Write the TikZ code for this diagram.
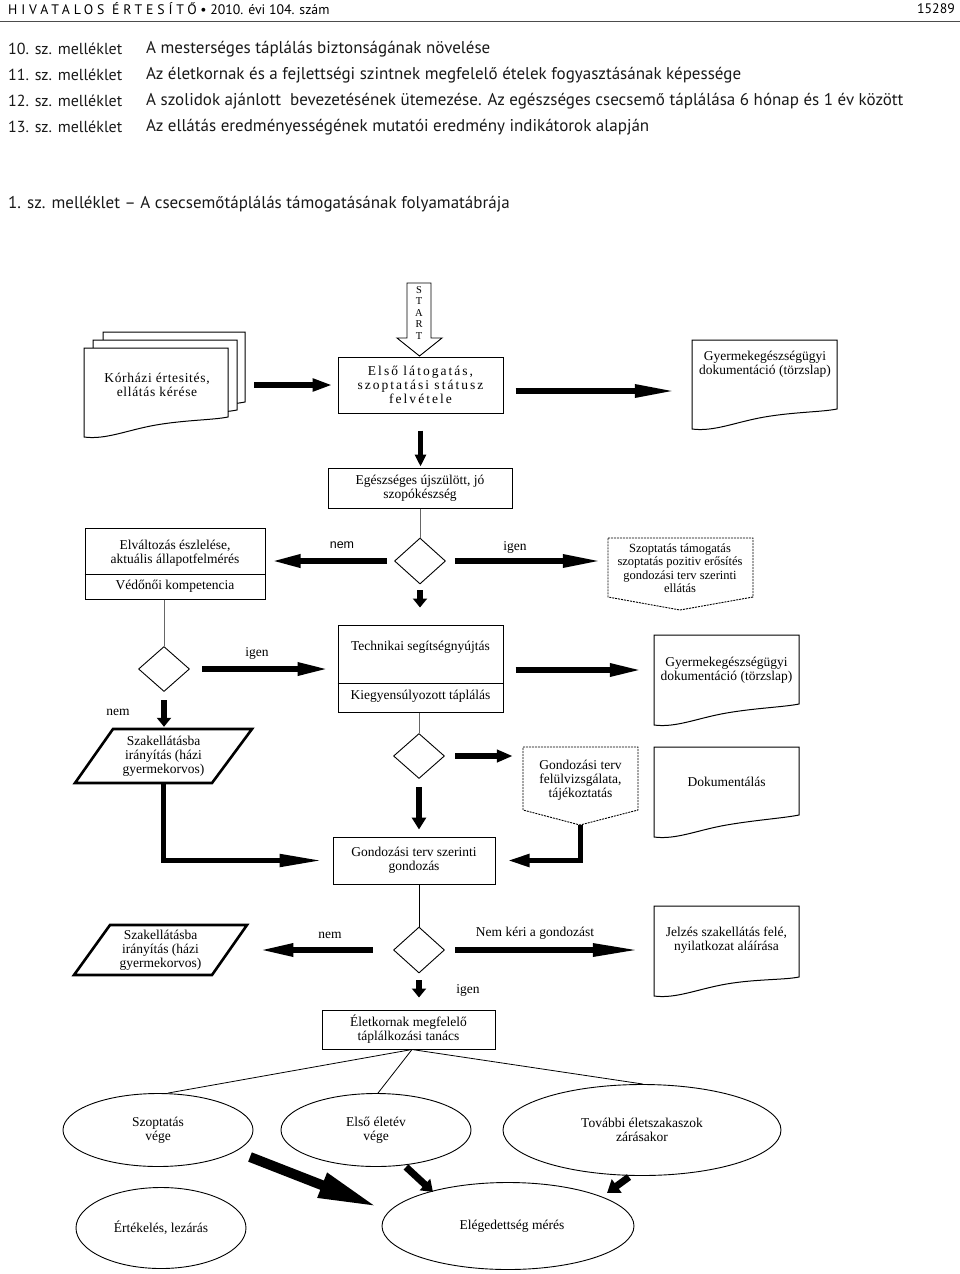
\documentclass[tikz,border=0pt]{standalone}
\usepackage{fontspec}
\setmainfont{Liberation Serif}
\newfontfamily\hsans{PT Sans}
\newfontfamily\hsanssp[LetterSpace=28]{PT Sans}
\newfontfamily\dsp[LetterSpace=15]{Liberation Serif}
\newfontfamily\dspk[LetterSpace=5]{Liberation Serif}
\newfontfamily\lsans{Liberation Sans}
\usetikzlibrary{arrows.meta,shapes.geometric,calc}
\newcommand\dfs{\fontsize{13.5}{14}\selectfont}
\newcommand\hfs{\fontsize{17}{19}\selectfont}
\newcommand\hfl{\fontsize{16}{19}\selectfont}
\newcommand\docshape[5]{%
  \draw[docline] (#1,#2) -- (#3,#2) -- (#3,#4)
    .. controls ({#3-0.1*(#3-#1)},{#4+3}) and ({#1+0.7*(#3-#1)},{#5-17}) .. ({#1+0.5*(#3-#1)},{#5-12})
    .. controls ({#1+0.3*(#3-#1)},{#5-7}) and ({#1+0.15*(#3-#1)},{#5+3}) .. (#1,#5) -- cycle;}
\tikzset{
  docline/.style={draw=black, line width=1pt, fill=white},
  box/.style={draw=black, line width=1pt, fill=white, inner sep=0pt, align=center, font=\dfs},
  frame/.style={inner sep=0pt, draw=none},
  txt/.style={inner sep=0pt, align=center, font=\dfs},
  dia/.style={draw=black, line width=0.9pt, shape=diamond, inner sep=0pt, minimum width=51pt, minimum height=46pt},
  ell/.style={draw=black, line width=0.9pt, shape=ellipse, inner sep=0pt, align=center, font=\dfs},
  thinl/.style={draw=black!60, line width=0.9pt},
  fat/.style={line width=6pt, -{Triangle[length=#1, width=12pt]}},
  fat/.default=30pt,
  fatdown/.style={line width=6pt, -{Triangle[length=9pt, width=14pt]}},
  fatline/.style={line width=5pt, line join=miter},
  dashbox/.style={draw=black, line width=0.9pt, dash pattern=on 2pt off 1pt, fill=white},
  hdr/.style={inner sep=0pt, anchor=west, font=\hsans\hfs, text=black!90},
  hdrl/.style={inner sep=0pt, anchor=west, font=\hsans\hfl, text=black!90},
}
\begin{document}
\begin{tikzpicture}[x=1pt,y=-1pt]
\useasboundingbox[fill=white] (0,0) rectangle (960,1274);
% ---------- header ----------
\node[inner sep=0pt, anchor=west, font=\hsans\fontsize{13.8}{15}\selectfont] (hd) at (8,9) {{\hsanssp HIVATALOS ÉRTESÍTŐ} • 2010. évi 104. szám};
\node[inner sep=0pt, anchor=east, font=\hsans\fontsize{13.8}{15}\selectfont] (pg) at (955,9) {15289};
\draw[black!70, line width=0.8pt] (0,21) -- (960,21);
\node[hdrl] (l10) at (8,49) {10. sz. melléklet};
\node[hdr] (t10) at (146,49) {A mesterséges táplálás biztonságának növelése};
\node[hdrl] (l11) at (8,75) {11. sz. melléklet};
\node[hdr] (t11) at (146,75) {Az életkornak és a fejlettségi szintnek megfelelő ételek fogyasztásának képessége};
\node[hdrl] (l12) at (8,101) {12. sz. melléklet};
\node[hdr] (t12) at (146,101) {A szolidok ajánlott\ \ bevezetésének ütemezése. Az egészséges csecsemő táplálása 6 hónap és 1 év között};
\node[hdrl] (l13) at (8,127) {13. sz. melléklet};
\node[hdr] (t13) at (146,127) {Az ellátás eredményességének mutatói eredmény indikátorok alapján};
\node[hdr] (ttl) at (8,204) {1. sz. melléklet – A csecsemőtáplálás támogatásának folyamatábrája};
% ---------- START ----------
\draw[line width=0.9pt, fill=white] (407,283) -- (431,283) -- (431,338) -- (442,338) -- (419.5,356) -- (397,338) -- (407,338) -- cycle;
\node[txt, font=\fontsize{10.5}{11.5}\selectfont] (start) at (419,313) {S\\T\\A\\R\\T};
% ---------- row 1 ----------
\docshape{103}{332}{245}{402}{422}
\docshape{93}{340}{237}{410}{430}
\docshape{84}{348}{228}{417}{437}
\node[frame, minimum width=144pt, minimum height=89pt] (kor) at (156,392.5) {};
\node[txt, font=\dspk\dfs] (kort) at (157,385) {Kórházi értesités,\\ellátás kérése};
\node[box, minimum width=165pt, minimum height=56pt, font=\dsp\dfs] (elso) at (420.5,385) {Első látogatás,\\szoptatási státusz\\felvétele};
\docshape{692}{340}{837}{409}{429}
\node[frame, minimum width=145pt, minimum height=89pt] (gy1) at (764.5,384.5) {};
\node[txt] (gy1t) at (765,364) {Gyermekegészségügyi\\dokumentáció (törzslap)};
\draw[fat=20pt, shorten <=26pt, shorten >=5pt] (elso.west -| kor.east) -- (elso.west);
\draw[fat=42pt, shorten <=12pt, shorten >=15pt] ([yshift=-6pt]elso.east) -- ([yshift=-6pt]elso.east -| gy1.west);
% ---------- row 2 ----------
\node[box, minimum width=184pt, minimum height=40pt] (egesz) at (420,488) {Egészséges újszülött, jó\\szopókészség};
\draw[line width=5pt, -{Triangle[length=12pt, width=11pt]}, shorten <=17pt, shorten >=1pt] (elso.south) -- (elso.south |- egesz.north);
\node[dia] (dia1) at (420,561) {};
\draw[thinl] (egesz.south) -- (dia1.north);
\node[box, minimum width=180pt, minimum height=71pt] (elv) at (175,563.5) {};
\draw[line width=1pt] ([yshift=-10.5pt]elv.west) -- ([yshift=-10.5pt]elv.east);
\node[txt] (elvt) at (175,553.5) {Elváltozás észlelése,\\aktuális állapotfelmérés};
\node[txt] (vedo) at (175,586.5) {Védőnői kompetencia};
\draw[fat=30pt, shorten <=7pt, shorten >=5pt] (dia1.west) -- (dia1.west -| elv.east);
\node[txt, font=\lsans\fontsize{12.5}{14}\selectfont] (nem1) at (342,545) {nem};
\draw[dashbox] (608,538) -- (753,538) -- (753,597) -- (680,610) -- (608,597) -- cycle;
\node[frame, minimum width=145pt, minimum height=72pt] (szop) at (680.5,574) {};
\node[txt, font=\fontsize{12.5}{13.5}\selectfont] (szopt) at (680,568) {Szoptatás támogatás\\szoptatás pozitiv erősítés\\gondozási terv szerinti\\ellátás};
\draw[fat=40pt, shorten <=9pt, shorten >=5pt] (dia1.east) -- (dia1.east -| szop.west);
\node[txt] (igen1) at (515,547) {igen};
% ---------- row 3 ----------
\node[box, minimum width=165pt, minimum height=87pt] (tech) at (420.5,668.5) {};
\draw[line width=1pt] ([yshift=-14.5pt]tech.west) -- ([yshift=-14.5pt]tech.east);
\node[txt] (techt) at (420.5,647) {Technikai segítségnyújtás};
\node[txt] (kieg) at (420.5,696.5) {Kiegyensúlyozott táplálás};
\draw[fatdown, shorten <=6pt, shorten >=17pt] (dia1.south) -- (dia1.south |- tech.north);
\node[dia, minimum width=51pt, minimum height=45pt] (dia2) at (164,669) {};
\draw[thinl] (dia2.north |- elv.south) -- (dia2.north);
\draw[fat=32pt, shorten <=12.5pt, shorten >=8pt] (dia2.east) -- (dia2.east -| tech.west);
\node[txt] (igen2) at (257,653) {igen};
\draw[line width=2.6pt, line join=miter, fill=white] (113,729) -- (252,729) -- (212,783) -- (75,783) -- cycle;
\node[txt, minimum width=138pt, minimum height=54pt] (par1) at (163.5,756) {Szakellátásba\\irányítás (házi\\gyermekorvos)};
\draw[fatdown, shorten <=8.5pt, shorten >=2pt] (dia2.south) -- (dia2.south |- par1.north);
\node[txt] (nem2) at (118,712) {nem};
\docshape{654}{635}{799}{704}{725}
\node[frame, minimum width=145pt, minimum height=90pt] (gy2) at (726.5,680) {};
\node[txt] (gy2t) at (726.5,670.5) {Gyermekegészségügyi\\dokumentáció (törzslap)};
\draw[fat=33pt, shorten <=12pt, shorten >=11pt] ([yshift=-1.5pt]tech.east) -- ([yshift=-1.5pt]tech.east -| gy2.west);
% ---------- row 4 ----------
\node[dia, minimum width=51pt, minimum height=45pt] (dia3) at (419,756) {};
\draw[thinl] (dia3.north |- tech.south) -- (dia3.north);
\draw[dashbox] (523,747) -- (638,747) -- (638,810) -- (580,825) -- (523,810) -- cycle;
\node[frame, minimum width=115pt, minimum height=78pt] (felulv) at (580.5,786) {};
\node[txt] (felulvt) at (580.5,780.5) {Gondozási terv\\felülvizsgálata,\\tájékoztatás};
\draw[fat=16pt, shorten <=10.5pt, shorten >=10pt] (dia3.east) -- (dia3.east -| felulv.west);
\docshape{654}{747}{799}{815}{837}
\node[frame, minimum width=145pt, minimum height=90pt] (dok) at (726.5,792) {};
\node[txt] (dokt) at (726.5,782) {Dokumentálás};
\node[box, minimum width=162pt, minimum height=47pt] (gond) at (414,860.5) {Gondozási terv szerinti\\gondozás};
\draw[fatdown, -{Triangle[length=12pt, width=14pt]}, shorten <=8.5pt, shorten >=7pt] (dia3.south) -- (dia3.south |- gond.north);
\draw[fatline, -{Triangle[length=43pt, width=12pt]}, shorten >=10pt] (par1.south) -- (par1.south |- gond.west) -- (gond.west);
\draw[fatline, -{Triangle[length=22pt, width=12pt]}, shorten >=12pt] (felulv.south) -- (felulv.south |- gond.east) -- (gond.east);
% ---------- row 5 ----------
\node[dia] (dia4) at (419,950) {};
\draw[thinl, draw=black] (dia4.north |- gond.south) -- (dia4.north);
\draw[line width=2.6pt, line join=miter, fill=white] (110,925) -- (247,925) -- (212,975) -- (74,975) -- cycle;
\node[txt, minimum width=137.5pt, minimum height=50pt] (par2) at (160.5,950) {Szakellátásba\\irányítás (házi\\gyermekorvos)};
\draw[fat=35pt, shorten <=20.5pt, shorten >=29pt] (dia4.west) -- (dia4.west -| par2.east);
\node[txt] (nem3) at (330,935) {nem};
\docshape{654}{906}{799}{977}{996}
\node[frame, minimum width=145pt, minimum height=90pt] (jel) at (726.5,951) {};
\node[txt] (jelt) at (726.5,940) {Jelzés szakellátás felé,\\nyilatkozat aláírása};
\draw[fat=48pt, shorten <=10.5pt, shorten >=13pt] (dia4.east) -- (dia4.east -| jel.west);
\node[txt] (nemkeri) at (535,933) {Nem kéri a gondozást};
\node[box, minimum width=173pt, minimum height=39pt] (elet) at (408.5,1029.5) {Életkornak megfelelő\\táplálkozási tanács};
\draw[fatdown, shorten <=7pt, shorten >=12pt] (dia4.south) -- (dia4.south |- elet.north);
\node[txt] (igen3) at (468,990) {igen};
% ---------- ellipses ----------
\node[ell, minimum width=190pt, minimum height=73pt] (sz) at (158,1130) {Szoptatás\\vége};
\node[ell, minimum width=190pt, minimum height=73pt] (el) at (376,1130) {Első életév\\vége};
\node[ell, minimum width=278pt, minimum height=91pt] (tov) at (642,1130) {További életszakaszok\\zárásakor};
\node[ell, minimum width=170pt, minimum height=81pt] (ert) at (161,1228) {Értékelés, lezárás};
\node[ell, minimum width=252pt, minimum height=87pt] (eleg) at (508,1226) {\hspace*{8pt}Elégedettség mérés};
\draw[line width=0.8pt] ([xshift=3.5pt]elet.south) -- ([xshift=10pt]sz.north);
\draw[line width=0.8pt] ([xshift=3.5pt]elet.south) -- ([xshift=2pt]el.north);
\draw[line width=0.8pt] ([xshift=3.5pt]elet.south) -- ([xshift=1pt]tov.north);
\coordinate (bA1) at (250,1157);
\coordinate (bA2) at (378,1207);
\draw[line width=10pt, -{Triangle[length=60pt, width=24pt]}] (bA1) -- (bA2);
\coordinate (bB1) at (406,1167);
\coordinate (bB2) at (433,1192);
\draw[line width=7pt, -{Triangle[length=11pt, width=15pt]}] (bB1) -- (bB2);
\coordinate (bC1) at (629,1177);
\coordinate (bC2) at (607,1193);
\draw[line width=7pt, -{Triangle[length=12pt, width=16pt]}] (bC1) -- (bC2);
\end{tikzpicture}
\end{document}
